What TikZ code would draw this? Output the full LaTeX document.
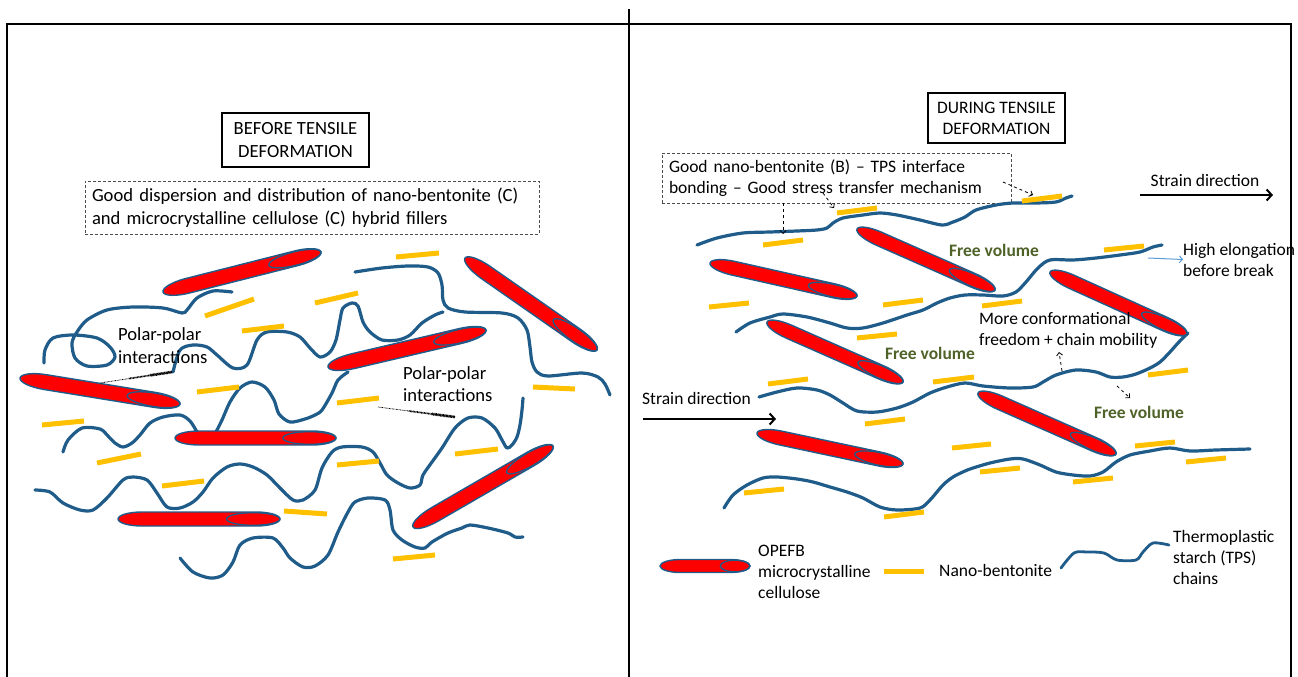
\documentclass[tikz,border=0pt]{standalone}
\usepackage{fontspec}
\setmainfont{Carlito}
\usetikzlibrary{arrows.meta, calc}

\definecolor{chainblue}{RGB}{31,92,138}
\definecolor{fibrered}{RGB}{255,0,0}
\definecolor{claygold}{RGB}{255,192,0}
\definecolor{volgreen}{RGB}{79,98,40}
\definecolor{elongblue}{RGB}{91,155,213}

% cellulose fibre: x1, y1, capped end x2, y2, thickness
\newcommand{\fibre}[5]{%
  \pgfmathsetmacro{\fibang}{atan2(#2-#4,#3-#1)}%
  \pgfmathsetmacro{\fiblen}{veclen(#3-#1,#4-#2)/2}%
  \pgfmathsetmacro{\fibtip}{min(1.7*#5,0.45*\fiblen)}%
  \begin{scope}[shift={({(#1+#3)/2},{(#2+#4)/2})}, rotate=\fibang]
    \draw[fibrebody] ({-\fiblen+\fibtip},{-#5/2}) -- ({\fiblen-\fibtip},{-#5/2})
      arc[start angle=-90, end angle=90, x radius=\fibtip, y radius=#5/2]
      -- ({-\fiblen+\fibtip},{#5/2})
      arc[start angle=90, end angle=270, x radius=\fibtip, y radius=#5/2] -- cycle;
    \draw[fibrecap] ({0.67*\fiblen},0) ellipse [x radius=0.33*\fiblen, y radius=0.45*#5];
  \end{scope}}

\begin{document}
\begin{tikzpicture}[
    x=1pt, y=-1pt,
    font=\fontsize{17.5}{21}\selectfont,
    bigfont/.style={font=\fontsize{18.6}{22.5}\selectfont},
    fibrebody/.style={draw=chainblue, fill=fibrered, line width=1.4pt},
    fibrecap/.style={draw=chainblue, line width=1.3pt},
    tps/.style={draw=chainblue, line width=3.2pt, line cap=round, line join=round},
    clay/.style={draw=claygold, line width=5pt},
    title/.style={draw, line width=1.5pt, align=center, inner sep=0pt},
    note/.style={draw=black!70, dash pattern=on 3pt off 2pt, line width=0.9pt,
                 align=left, inner sep=0pt},
    txt/.style={align=left, inner sep=0pt},
    freevol/.style={text=volgreen, font=\fontsize{17.5}{21}\selectfont\bfseries, inner sep=0pt},
    strain/.style={line width=2pt, -{Straight Barb[length=5pt, width=11pt]}},
    hint/.style={dashed, line width=0.8pt, -{Straight Barb[length=3pt, width=6pt]}},
    polarline/.style={dash pattern=on 0.7pt off 0.7pt}
  ]
  \useasboundingbox (0,0) rectangle (1298,677);

  % frame and divider
  \draw[line width=2.5pt] (7,677) -- (7,24) -- (1291,24) -- (1291,677);
  \draw[line width=2.5pt] (629,9) -- (629,677);

  % ---------------- before deformation ----------------
  \node[title, bigfont, minimum width=147, minimum height=54] (before) at (295.5,140)
    {BEFORE TENSILE\\DEFORMATION};
  \node[note, bigfont, minimum width=454, minimum height=53, text width=440] (dispersion) at (312,207.5)
    {Good dispersion and distribution of nano-bentonite (C)\\and microcrystalline cellulose (C) hybrid fillers};

  % starch chains
  \draw[tps] plot[smooth, tension=0.5] coordinates {(232,292) (213,291) (197,298) (187,310) (182,313)
    (163,308) (133,307) (107,310) (87,320) (77,332) (72,343) (75,358) (87,366) (107,365) (115,357)
    (110,347) (97,338) (73,335) (53,338) (45,350) (44,363)};
  \draw[tps] plot[smooth, tension=0.5] coordinates {(173,372) (180,350) (193,345) (207,347) (217,355)
    (233,368) (247,365) (257,340) (267,332) (287,332) (300,337) (310,348) (320,357) (330,352)
    (336,340) (340,320) (343,308) (352,303) (358,306) (363,322) (370,332) (382,340) (398,340)
    (410,335) (422,323) (435,315) (443,312)};
  \draw[tps] plot[smooth, tension=0.5] coordinates {(355,272) (382,268) (408,266) (428,267) (438,273)
    (442,285) (443,300) (448,308) (465,312) (502,313) (518,318) (527,330) (530,347) (532,362)
    (537,372) (548,376) (582,373) (598,377) (605,384) (610,395)};
  \draw[tps] plot[smooth, tension=0.5] coordinates {(216,432) (222,420) (230,402) (240,388) (252,382)
    (265,387) (274,400) (279,414) (290,422) (305,419) (315,415) (322,410) (332,393) (338,380) (348,372)};
  \draw[tps] plot[smooth, tension=0.5] coordinates {(63,452) (68,440) (82,428) (100,429) (108,436)
    (115,443) (123,447) (132,443) (140,435) (150,423) (163,417) (180,415) (190,421) (197,432)};
  \draw[tps] plot[smooth, tension=0.5] coordinates {(35,490) (50,492) (63,503) (80,510) (93,510)
    (107,498) (123,480) (133,477) (147,480) (157,493) (167,507) (180,508) (193,502) (203,492)
    (213,478) (227,467) (240,464) (253,467) (267,475) (280,488) (293,500) (303,500) (315,490)
    (322,468) (332,452) (342,447) (362,447) (373,452) (380,463) (387,475) (398,483) (410,488)
    (420,485) (423,475) (432,462) (442,448) (455,428) (468,418) (482,418) (495,428) (502,440)
    (507,448) (512,445) (517,437) (520,425) (522,410) (523,398)};
  \draw[tps] plot[smooth, tension=0.5] coordinates {(180,558) (193,572) (210,578) (223,575) (233,562)
    (240,545) (253,538) (273,538) (283,548) (290,558) (303,567) (315,566) (328,555) (338,532)
    (348,512) (355,502) (368,498) (385,500) (390,510) (393,530) (402,540) (415,547) (425,548)
    (432,542) (448,533) (462,528) (470,525) (488,528) (508,533) (515,537) (523,537)};

  % cellulose fibres
  \fibre{163}{292}{321}{252}{15}
  \fibre{465}{258}{597}{350}{15}
  \fibre{328}{367}{486}{330}{15}
  \fibre{20}{378}{180}{404}{15}
  \fibre{175}{438}{336}{438}{14}
  \fibre{118}{519}{280}{519}{14}
  \fibre{413}{527}{553}{446}{15}

  % nano-bentonite platelets
  \draw[clay] (396,257) -- (439,253) (205,316) -- (254,299) (315,303) -- (358,293)
    (242,331) -- (284,326) (533,387) -- (575,389) (197,392) -- (239,387) (337,403) -- (379,398)
    (42,425) -- (84,421) (97,463) -- (141,454) (162,486) -- (204,481) (337,465) -- (379,461)
    (455,454) -- (498,449) (284,511) -- (327,514) (393,559) -- (435,555);

  % polar-polar interactions
  \node[txt, bigfont, anchor=west] (polarA) at (118,345.5) {Polar-polar\\interactions};
  \node[txt, bigfont, anchor=west] (polarB) at (403,384) {Polar-polar\\interactions};
  \coordinate (pa1) at (100,383);
  \coordinate (pa2) at (172,372);
  \coordinate (pb1) at (378,407);
  \coordinate (pb2) at (455,417);
  \draw[polarline, line width=0.8pt] (pa1) -- (pa2);
  \draw[polarline, line width=1.8pt] ($(pa1)!0.4!(pa2)$) -- (pa2);
  \draw[polarline, line width=2.8pt] ($(pa1)!0.7!(pa2)$) -- (pa2);
  \draw[polarline, line width=0.8pt] (pb1) -- (pb2);
  \draw[polarline, line width=1.8pt] ($(pb1)!0.4!(pb2)$) -- (pb2);
  \draw[polarline, line width=2.8pt] ($(pb1)!0.7!(pb2)$) -- (pb2);

  % ---------------- during deformation ----------------
  \node[title, minimum width=137, minimum height=50] (during) at (996.5,118)
    {DURING TENSILE\\DEFORMATION};
  \node[note, minimum width=349, minimum height=50, text width=335] (bonding) at (836.5,178)
    {Good nano-bentonite (B) -- TPS interface\\bonding -- Good stress transfer mechanism};

  % stretched chains
  \draw[tps] plot[smooth, tension=0.5] coordinates {(697,245) (717,238) (743,233) (770,232) (797,231)
    (817,230) (827,228) (833,223) (843,218) (863,215) (880,213) (897,215) (920,220) (942,225)
    (953,222) (965,217) (976,210) (996,205) (1013,203) (1036,203) (1056,202) (1066,198) (1072,196)};
  \draw[tps] plot[smooth, tension=0.5] coordinates {(736,332) (750,323) (770,317) (783,314) (807,317)
    (830,323) (847,328) (863,328) (883,323) (907,315) (923,310) (937,303) (950,298) (965,295)
    (983,295) (1003,296) (1016,292) (1026,282) (1038,268) (1050,260) (1073,260) (1096,258)
    (1120,255) (1140,252) (1153,247) (1162,245)};
  \draw[tps] plot[smooth, tension=0.5] coordinates {(759,397) (777,392) (797,388) (817,390) (830,395)
    (843,403) (857,411) (877,412) (897,408) (913,402) (930,393) (947,387) (965,383) (983,386)
    (1010,388) (1033,387) (1043,382) (1056,375) (1076,370) (1096,372) (1110,377) (1123,377)
    (1136,374) (1150,368) (1160,362) (1170,352) (1178,343) (1188,333)};
  \draw[tps] plot[smooth, tension=0.5] coordinates {(724,508) (733,495) (747,485) (763,478) (777,477)
    (797,479) (813,482) (830,487) (847,492) (863,498) (880,507) (897,510) (920,508) (930,500)
    (943,485) (953,477) (965,471) (973,468) (990,463) (1010,459) (1023,459) (1040,465) (1056,472)
    (1073,475) (1090,476) (1103,472) (1116,462) (1130,455) (1150,451) (1170,448) (1190,451)
    (1216,450) (1250,449)};

  % aligned fibres
  \fibre{710}{263}{857}{296}{14}
  \fibre{857}{229}{995}{290}{14}
  \fibre{767}{322}{903}{382}{14}
  \fibre{1050}{272}{1187}{334}{14}
  \fibre{757}{433}{903}{464}{14}
  \fibre{978}{393}{1116}{454}{14}

  % platelets
  \draw[clay] (837,213) -- (877,208) (763,245) -- (803,240) (709,307) -- (749,303)
    (883,305) -- (923,300) (857,338) -- (897,334) (1022,201) -- (1062,196) (1104,250) -- (1144,246)
    (982,306) -- (1022,301) (768,384) -- (808,379) (933,382) -- (974,377) (865,424) -- (905,419)
    (952,448) -- (991,444) (744,493) -- (784,489) (884,517) -- (924,512) (1148,375) -- (1188,370)
    (1135,446) -- (1175,442) (1186,462) -- (1226,458) (980,472) -- (1020,468) (1073,482) -- (1113,478);

  % interface pointers
  \coordinate (ptrA) at (783,234);
  \coordinate (ptrB0) at (823,193);
  \coordinate (ptrB) at (834,208);
  \coordinate (ptrC0) at (1003,182);
  \coordinate (ptrC) at (1033,195);
  \draw[hint] (bonding.south -| ptrA) -- (ptrA);
  \draw[hint] (ptrB0) -- (ptrB);
  \draw[hint] (ptrC0) -- (ptrC);

  % labels
  \node[freevol] (freeA) at (994,250) {Free volume};
  \node[freevol] (freeB) at (930,353) {Free volume};
  \node[freevol] (freeC) at (1139,412) {Free volume};
  \node[txt, anchor=west] (mobility) at (979,330) {More conformational\\freedom + chain mobility};
  \node[txt, anchor=west] (elong) at (1183,259.5) {High elongation\\before break};
  \coordinate (mobA) at (1062,371);
  \coordinate (mobB) at (1059,352);
  \coordinate (volA) at (1117,386);
  \coordinate (volB) at (1130,398);
  \draw[hint] (mobA) -- (mobB);
  \draw[hint] (volA) -- (volB);
  \coordinate (elA) at (1148,258);
  \draw[elongblue, line width=1pt, -{Straight Barb[length=3pt, width=7pt]}] (elA) -- (elong.west);

  % strain direction
  \node[txt] (strainR) at (1205,180) {Strain direction};
  \coordinate (sr1) at (1140,195);
  \coordinate (sr2) at (1273,195);
  \draw[strain] (sr1) -- (sr2);
  \node[txt, anchor=west] (strainL) at (642,398) {Strain direction};
  \coordinate (sl1) at (643,419);
  \coordinate (sl2) at (776,419);
  \draw[strain] (sl1) -- (sl2);

  % legend
  \fibre{660}{566}{750}{566}{13}
  \node[txt, anchor=west] (legfibre) at (758,571.5) {OPEFB\\microcrystalline\\cellulose};
  \draw[clay] (884,571) -- (924,571);
  \node[txt, anchor=west] (legclay) at (939,570) {Nano-bentonite};
  \draw[tps, line width=2.8pt] plot[smooth, tension=0.5] coordinates {(1061,568) (1074,553) (1087,552)
    (1104,553) (1117,560) (1136,560) (1143,552) (1153,543) (1169,545)};
  \node[txt, anchor=west] (legtps) at (1173,557) {Thermoplastic\\starch (TPS)\\chains};
\end{tikzpicture}
\end{document}
